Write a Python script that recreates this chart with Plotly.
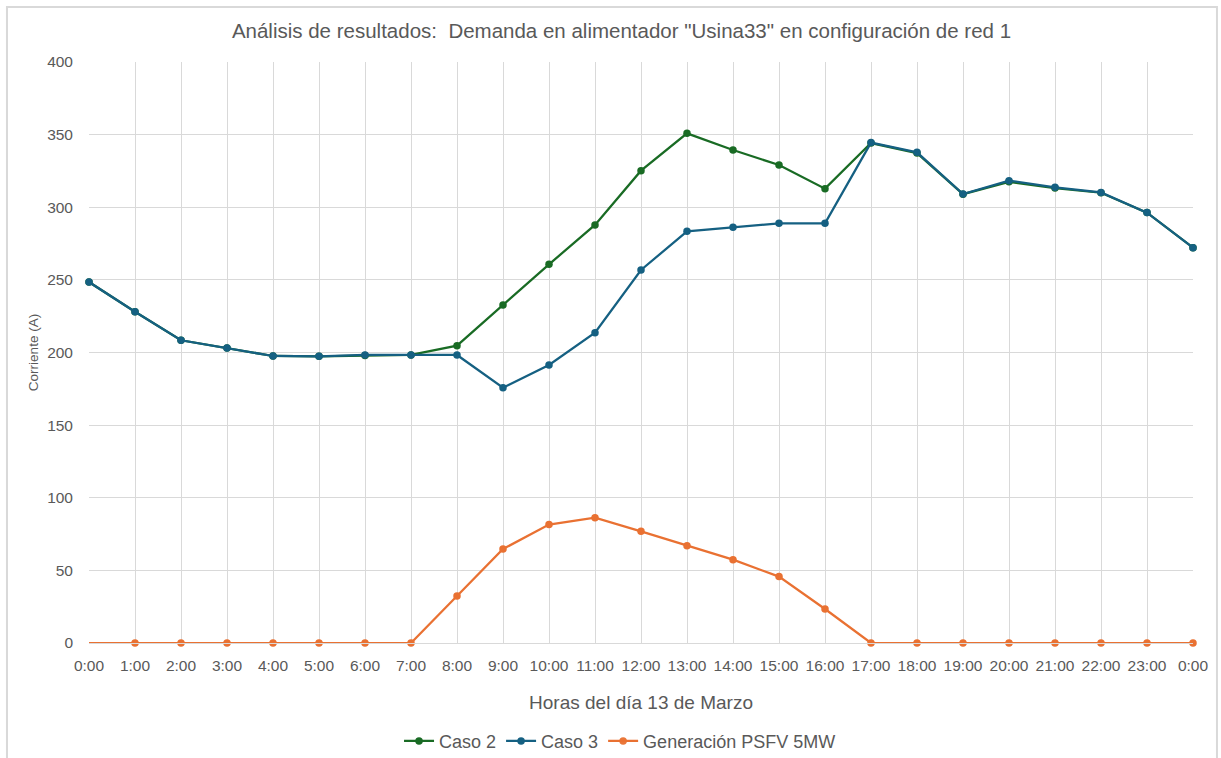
import plotly.graph_objects as go

# Hourly readings for 13 March (0:00 to 0:00 of the next day)
horas = list(range(25))
etiquetas_horas = [f"{h}:00" for h in range(24)] + ["0:00"]

caso_2 = [248.5, 228.1, 208.4, 203.1, 197.6, 197.4, 198.0, 198.3, 204.7,
          232.7, 260.7, 287.8, 325.2, 350.9, 339.4, 329.1, 312.8, 344.2,
          337.3, 309.0, 317.5, 313.2, 310.0, 296.3, 272.2]
caso_3 = [248.5, 228.1, 208.4, 203.1, 197.6, 197.4, 198.3, 198.3, 198.3,
          175.8, 191.4, 213.6, 256.8, 283.4, 286.2, 288.9, 288.9, 344.5,
          337.8, 309.1, 318.3, 313.7, 310.2, 296.3, 272.2]
generacion = [0, 0, 0, 0, 0, 0, 0, 0, 32.4, 64.7, 81.5, 86.3, 76.9, 67.0,
              57.4, 45.7, 23.4, 0, 0, 0, 0, 0, 0, 0, 0]

VERDE = "#196B24"
AZUL = "#156082"
NARANJA = "#E97132"
GRIS_TEXTO = "#595959"
GRIS_REJILLA = "#D9D9D9"
FUENTE = "Liberation Sans, Arial, sans-serif"
MARCADOR = 7.5

fig = go.Figure()
fig.add_trace(go.Scatter(
    x=horas, y=caso_2, name="Caso 2", mode="lines+markers", cliponaxis=False,
    line=dict(color=VERDE, width=2.25), marker=dict(color=VERDE, size=MARCADOR)))
fig.add_trace(go.Scatter(
    x=horas, y=caso_3, name="Caso 3", mode="lines+markers", cliponaxis=False,
    line=dict(color=AZUL, width=2.25), marker=dict(color=AZUL, size=MARCADOR)))
# The generation series has no marker on its first (midnight) point
fig.add_trace(go.Scatter(
    x=horas, y=generacion, name="Generación PSFV 5MW", mode="lines+markers",
    cliponaxis=False, line=dict(color=NARANJA, width=2.25),
    marker=dict(color=NARANJA, size=MARCADOR,
                opacity=[0] + [1] * (len(horas) - 1))))

fig.update_layout(
    width=1221, height=758,
    margin=dict(l=89, r=28, t=62, b=115, autoexpand=False),
    paper_bgcolor="white", plot_bgcolor="white",
    font=dict(family=FUENTE, color=GRIS_TEXTO, size=15.5),
    title=dict(
        text='Análisis de resultados:  Demanda en alimentador "Usina33" en configuración de red 1',
        x=0.509, xanchor="center", xref="container",
        y=0.959, yref="container", yanchor="middle",
        font=dict(size=20.5, color=GRIS_TEXTO)),
    showlegend=True,
    legend=dict(orientation="h", x=0.481, xanchor="center", y=-0.169,
                yanchor="middle", font=dict(size=18, color=GRIS_TEXTO),
                itemwidth=30, traceorder="normal"),
    xaxis=dict(
        range=[0, 24], tickmode="array", tickvals=horas, ticktext=etiquetas_horas,
        showgrid=True, gridcolor=GRIS_REJILLA, gridwidth=1,
        showline=True, linecolor=GRIS_REJILLA, linewidth=1,
        zeroline=False, ticks="", ticklabelstandoff=8, automargin=False,
        tickfont=dict(size=15.5, color=GRIS_TEXTO),
        title=dict(text="Horas del día 13 de Marzo", standoff=23,
                   font=dict(size=19, color=GRIS_TEXTO))),
    yaxis=dict(
        range=[0, 400], dtick=50, showgrid=True, gridcolor=GRIS_REJILLA,
        gridwidth=1, zeroline=False, showline=False, ticks="",
        ticklabelstandoff=15, automargin=False,
        tickfont=dict(size=15.5, color=GRIS_TEXTO),
        title=dict(text="Corriente (A)", standoff=5,
                   font=dict(size=13.5, color=GRIS_TEXTO))),
)

# Light frame around the whole chart area
fig.add_shape(type="rect", xref="paper", yref="paper",
              x0=-0.0743, x1=1.0217, y0=-0.25, y1=1.0947,
              line=dict(color=GRIS_REJILLA, width=2), fillcolor="rgba(0,0,0,0)",
              layer="below")

fig.write_html("out.html")
